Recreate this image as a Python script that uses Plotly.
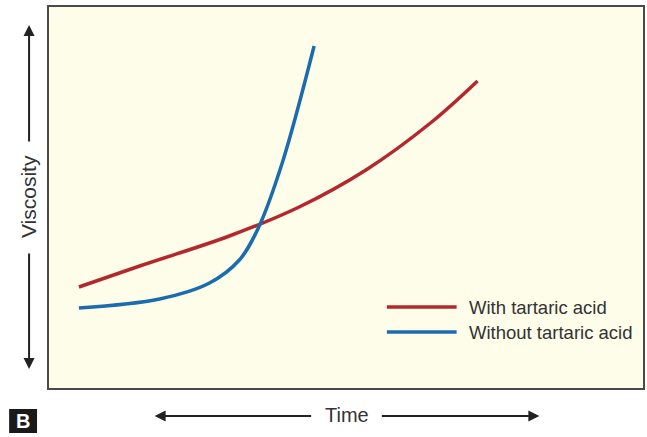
import plotly.graph_objects as go

# Curve data (time units, viscosity units)
with_time = [30, 91, 181, 251, 318, 384, 430]
with_visc = [101, 122, 152, 181, 218, 266, 307]

without_time = [30, 111, 161, 191, 210, 234, 266]
without_visc = [80, 89, 105, 128, 160, 225, 342]

series_names = ["With tartaric acid", "Without tartaric acid"]
series_colors = ["#B3282D", "#1B6CAE"]

W, H = 647, 437
L, R, T, B = 49, 2, 7, 49
PW, PH = W - L - R, H - T - B


# pixel -> paper helpers for the decorations
def px(x):
    return (x - L) / PW


def py(y):
    return (H - B - y) / PH


fig = go.Figure()

fig.add_trace(go.Scatter(
    x=with_time, y=with_visc, mode="lines", name=series_names[0],
    line=dict(color=series_colors[0], width=3.5, shape="spline", smoothing=1.0),
    showlegend=False, hoverinfo="skip",
))
fig.add_trace(go.Scatter(
    x=without_time, y=without_visc, mode="lines", name=series_names[1],
    line=dict(color=series_colors[1], width=3.5, shape="spline", smoothing=1.0),
    showlegend=False, hoverinfo="skip",
))

shapes = []
annotations = []

# legend drawn by hand (long line samples)
for i, (name, col) in enumerate(zip(series_names, series_colors)):
    yy = 307 + i * 25
    shapes.append(dict(type="line", xref="paper", yref="paper",
                       x0=px(388), x1=px(458), y0=py(yy), y1=py(yy),
                       line=dict(color=col, width=3.5)))
    annotations.append(dict(xref="paper", yref="paper", x=px(468), y=py(yy),
                            text=name, showarrow=False, xanchor="left",
                            yanchor="middle",
                            font=dict(size=18.5, color="#333333")))

# axis titles with arrows
arrow = dict(xref="paper", yref="paper", text="", showarrow=True,
             arrowhead=2, arrowsize=1.1, arrowwidth=2, arrowcolor="#222222",
             standoff=0, startstandoff=0)
annotations.append(dict(arrow, x=px(29), y=py(25), ax=0, ay=118))
annotations.append(dict(arrow, x=px(29), y=py(369), ax=0, ay=-117))
annotations.append(dict(arrow, x=px(155), y=py(416), ax=158, ay=0))
annotations.append(dict(arrow, x=px(541), y=py(416), ax=-159, ay=0))

annotations.append(dict(xref="paper", yref="paper", x=px(28), y=py(197),
                        text="Viscosity", showarrow=False, textangle=-90,
                        xanchor="center", yanchor="middle",
                        font=dict(size=21, color="#333333")))
annotations.append(dict(xref="paper", yref="paper", x=px(348), y=py(415),
                        text="Time", showarrow=False,
                        xanchor="center", yanchor="middle",
                        font=dict(size=20, color="#333333")))

# panel letter
shapes.append(dict(type="rect", xref="paper", yref="paper",
                   x0=px(9), x1=px(37), y0=py(433), y1=py(409),
                   fillcolor="#1a1a1a", line=dict(width=0)))
annotations.append(dict(xref="paper", yref="paper", x=px(23), y=py(421),
                        text="<b>B</b>", showarrow=False,
                        xanchor="center", yanchor="middle",
                        font=dict(size=20, color="white")))

fig.update_layout(
    width=W, height=H,
    margin=dict(l=L, r=R, t=T, b=B),
    paper_bgcolor="white",
    plot_bgcolor="#FEFDEA",
    font=dict(family="Liberation Sans, Arial, sans-serif"),
    xaxis=dict(range=[0, PW], showgrid=False, zeroline=False,
               showticklabels=False, ticks="", showline=True, mirror=True,
               linecolor="#4a4a4a", linewidth=2, fixedrange=True),
    yaxis=dict(range=[0, PH], showgrid=False, zeroline=False,
               showticklabels=False, ticks="", showline=True, mirror=True,
               linecolor="#4a4a4a", linewidth=2, fixedrange=True),
    shapes=shapes,
    annotations=annotations,
)

# drop the default page margin so the figure sits at the window corner
fig.write_html("out.html", config={"displayModeBar": False},
               post_script="document.body.style.margin='0';document.body.style.overflow='hidden';")
